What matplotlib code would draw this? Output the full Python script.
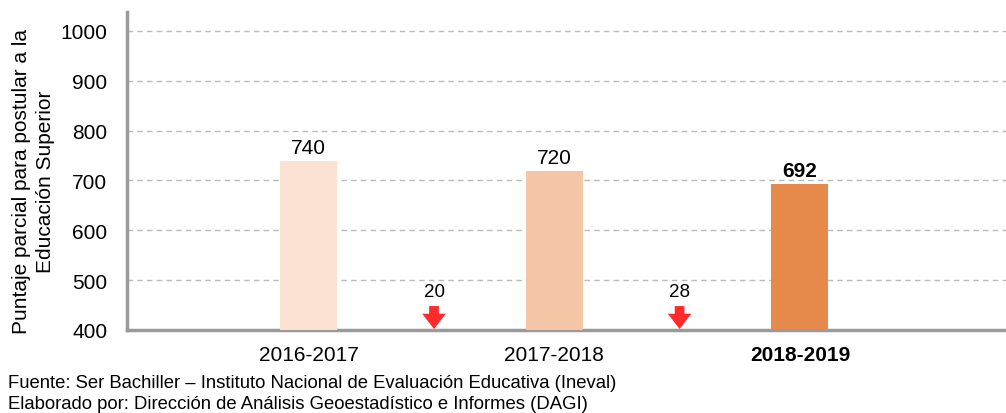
import matplotlib.pyplot as plt

plt.rcParams['font.family'] = ['Liberation Sans', 'DejaVu Sans']

periodos = ['2016-2017', '2017-2018', '2018-2019']
puntajes = [740, 720, 692]
colores = ['#FBE2D3', '#F4C6A5', '#E68A4C']
caidas = [20, 28]

fig = plt.figure(figsize=(10.06, 4.14), dpi=100)
ax = fig.add_axes([0.126, 0.2005, 0.874, 0.768])

x = list(range(len(periodos)))
ax.bar(x, puntajes, width=0.232, color=colores, zorder=3)
ax.set_ylim(400, 1038)
ax.set_xlim(-0.741, 2.839)
ax.set_yticks(range(400, 1001, 100))
ax.yaxis.grid(True, linestyle=(0, (4, 3)), color='#BBBBBB', linewidth=1, zorder=0)
ax.tick_params(axis='both', length=0, labelsize=15)
ax.tick_params(axis='y', pad=14)
ax.tick_params(axis='x', pad=11)
ax.set_xticks(x)
ax.set_xticklabels(periodos)
ax.get_xticklabels()[-1].set_fontweight('bold')

for s in ['top', 'right']:
    ax.spines[s].set_visible(False)
for s in ['left', 'bottom']:
    ax.spines[s].set_color('#9A9A9A')
    ax.spines[s].set_linewidth(2.5)

for i, v in enumerate(puntajes):
    ax.text(i, v + 8, str(v), ha='center', va='bottom', fontsize=15,
            fontweight='bold' if i == len(puntajes) - 1 else 'normal')

# flechas de caída entre periodos
for i, c in enumerate(caidas):
    p = i + 0.51
    ax.annotate('', xy=(p, 402), xytext=(p, 448),
                arrowprops=dict(facecolor='#FF2A2A', edgecolor='none', width=7, headwidth=17, headlength=11),
                zorder=4)
    ax.text(p, 460, str(c), ha='center', va='bottom', fontsize=13.5)

ax.set_ylabel('Puntaje parcial para postular a la\nEducación Superior', fontsize=15, linespacing=1.3)
ax.yaxis.set_label_coords(-0.082, 0.47)

fig.text(0.008, 0.064, 'Fuente: Ser Bachiller – Instituto Nacional de Evaluación Educativa (Ineval)', fontsize=13.3)
fig.text(0.008, 0.012, 'Elaborado por: Dirección de Análisis Geoestadístico e Informes (DAGI)', fontsize=13.3)

fig.savefig('out.png', dpi=100)
